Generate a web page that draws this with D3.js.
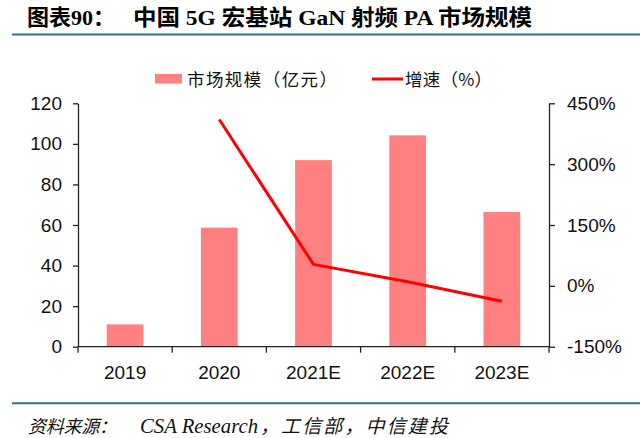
<!DOCTYPE html>
<html><head><meta charset="utf-8">
<script src="https://cdn.jsdelivr.net/npm/d3@7"></script>
<style>
html,body{margin:0;padding:0;background:#fff;}
svg{display:block;}
</style></head>
<body>
<svg id="c" width="640" height="438"></svg>
<script>
const categories = ["2019", "2020", "2021E", "2022E", "2023E"];
const marketSize = [11, 58.7, 92, 104.2, 66.4];
const growth = [null, 410, 53, 10, -38];
const leftTicks = [0, 20, 40, 60, 80, 100, 120];
const rightTicks = [-150, 0, 150, 300, 450];
const titleLabel = "图表90：";
const titleText = "中国 5G 宏基站 GaN 射频 PA 市场规模";
const legendBar = "市场规模（亿元）";
const legendLine = "增速（%）";
const sourceLabel = "资料来源：";
const sourceLatin = "CSA Research";
const sourceCjk = "，工信部，中信建投";

(function () {
const svg = d3.select("#c");
const sans = "Liberation Sans, Arial, 'Noto Sans CJK SC', sans-serif";
const serif = "'Liberation Serif', 'Times New Roman', 'Noto Sans CJK SC', serif";
const cjk = "'Noto Sans CJK SC', sans-serif";
const barColor = "#ff8080";
const lineColor = "#ff0000";
const axisColor = "#222";

const pLeft = 78, pRight = 549, pTop = 103.3, pBottom = 346.7;

// Title
svg.append("text").attr("x", 27).attr("y", 25)
  .attr("font-family", serif).attr("font-weight", "bold").attr("font-size", 22)
  .attr("fill", "#000").text(titleLabel);
svg.append("text").attr("x", 133).attr("y", 25)
  .attr("font-family", serif).attr("font-weight", "bold").attr("font-size", 22)
  .attr("textLength", 399).attr("lengthAdjust", "spacingAndGlyphs")
  .attr("fill", "#000").text(titleText);
svg.append("line").attr("x1", 12).attr("x2", 640).attr("y1", 34.5).attr("y2", 34.5)
  .attr("stroke", "#2e6d9d").attr("stroke-width", 2);

// Legend
svg.append("rect").attr("x", 155).attr("y", 74).attr("width", 27).attr("height", 9.5).attr("fill", barColor);
svg.append("text").attr("x", 187).attr("y", 85.5).attr("font-family", cjk).attr("font-size", 17.5)
  .attr("textLength", 150).attr("lengthAdjust", "spacing").attr("fill", "#111").text(legendBar);
svg.append("line").attr("x1", 372).attr("x2", 403).attr("y1", 79).attr("y2", 79)
  .attr("stroke", lineColor).attr("stroke-width", 3);
svg.append("text").attr("x", 405).attr("y", 85.5).attr("font-family", cjk).attr("font-size", 17.5)
  .attr("textLength", 87).attr("lengthAdjust", "spacing").attr("fill", "#111").text(legendLine);

// Scales
const x = d3.scaleBand().domain(categories).range([pLeft, pRight]).paddingInner(0).paddingOuter(0);
const yL = d3.scaleLinear().domain([0, 120]).range([pBottom, pTop]);
const yR = d3.scaleLinear().domain([-150, 450]).range([pBottom, pTop]);
const barW = x.bandwidth() * 0.39;

// Bars
svg.append("g").selectAll("rect").data(categories).join("rect")
  .attr("x", (d) => x(d) + x.bandwidth() / 2 - barW / 2)
  .attr("width", barW)
  .attr("y", (d, i) => yL(marketSize[i]))
  .attr("height", (d, i) => yL(0) - yL(marketSize[i]))
  .attr("fill", barColor);

// Axes
function styleAxis(g) {
  g.selectAll("path, line").attr("stroke", axisColor).attr("stroke-width", 1.3);
  g.selectAll("text").attr("font-family", sans).attr("font-size", 19).attr("fill", "#111");
}
const gL = svg.append("g").attr("transform", `translate(${pLeft},0)`)
  .call(d3.axisLeft(yL).tickValues(leftTicks).tickSize(5).tickSizeOuter(0).tickPadding(11));
styleAxis(gL);

const gR = svg.append("g").attr("transform", `translate(${pRight},0)`)
  .call(d3.axisRight(yR).tickValues(rightTicks).tickSize(6).tickSizeOuter(0).tickPadding(12)
    .tickFormat((d) => d + "%"));
styleAxis(gR);

// bottom axis: ticks at category boundaries
const gB = svg.append("g").attr("transform", `translate(0,${pBottom})`);
gB.append("line").attr("x1", pLeft).attr("x2", pRight).attr("y1", 0).attr("y2", 0)
  .attr("stroke", axisColor).attr("stroke-width", 1.3);
const boundaries = categories.map((d) => x(d)).concat([x(categories[categories.length - 1]) + x.bandwidth()]);
gB.selectAll("line.tk").data(boundaries).join("line").attr("class", "tk")
  .attr("x1", (d) => d).attr("x2", (d) => d).attr("y1", 0).attr("y2", 6)
  .attr("stroke", axisColor).attr("stroke-width", 1.3);
gB.selectAll("text").data(categories).join("text")
  .attr("x", (d) => x(d) + x.bandwidth() / 2).attr("y", 32.5)
  .attr("text-anchor", "middle").attr("font-family", sans).attr("font-size", 19).attr("fill", "#111")
  .text((d) => d);

// Growth line
const lineData = categories.map((d, i) => ({ c: d, v: growth[i] })).filter((p) => p.v !== null);
svg.append("path").datum(lineData)
  .attr("d", d3.line().x((p) => x(p.c) + x.bandwidth() / 2).y((p) => yR(p.v)))
  .attr("fill", "none").attr("stroke", lineColor).attr("stroke-width", 3).attr("stroke-linejoin", "round");

// Footer
svg.append("line").attr("x1", 12).attr("x2", 640).attr("y1", 403.3).attr("y2", 403.3)
  .attr("stroke", "#2e6d9d").attr("stroke-width", 2);
svg.append("text").attr("x", 28).attr("y", 433).attr("font-family", serif).attr("font-style", "italic")
  .attr("font-size", 18).attr("textLength", 89).attr("lengthAdjust", "spacing").attr("fill", "#111").text(sourceLabel);
svg.append("text").attr("x", 140).attr("y", 433).attr("font-family", serif).attr("font-style", "italic")
  .attr("font-size", 20).attr("textLength", 118).attr("lengthAdjust", "spacingAndGlyphs").attr("fill", "#111").text(sourceLatin);
svg.append("text").attr("x", 260).attr("y", 433).attr("font-family", serif).attr("font-style", "italic")
  .attr("font-size", 19).attr("textLength", 188).attr("lengthAdjust", "spacing").attr("fill", "#111").text(sourceCjk);
})();
</script>
</body></html>
